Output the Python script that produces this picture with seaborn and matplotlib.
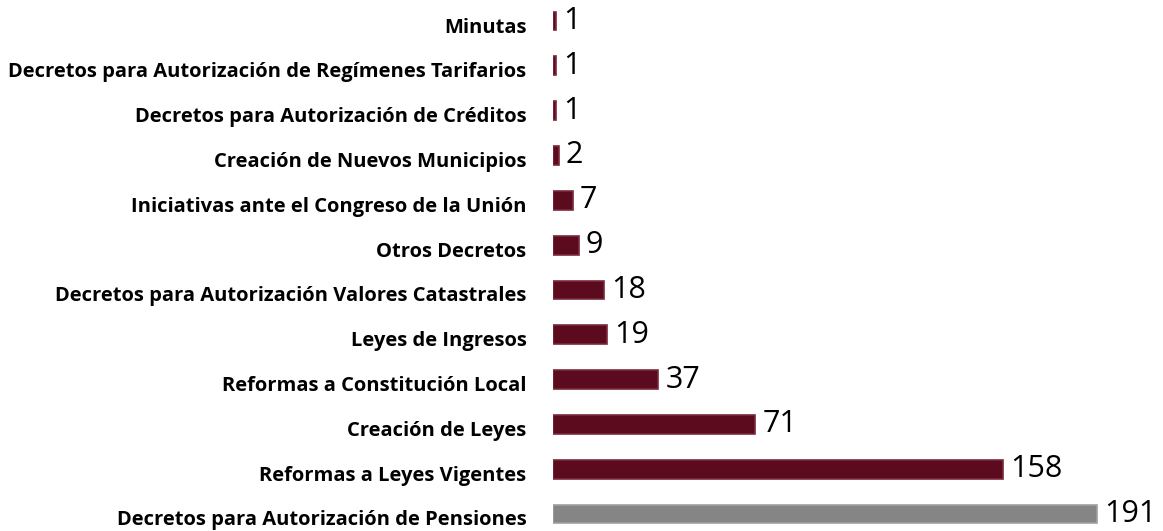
import matplotlib
matplotlib.use("Agg")
import matplotlib.pyplot as plt
import matplotlib.transforms as mtransforms
import seaborn as sns
import pandas as pd

categorias = [
    "Minutas",
    "Decretos para Autorización de Regímenes Tarifarios",
    "Decretos para Autorización de Créditos",
    "Creación de Nuevos Municipios",
    "Iniciativas ante el Congreso de la Unión",
    "Otros Decretos",
    "Decretos para Autorización Valores Catastrales",
    "Leyes de Ingresos",
    "Reformas a Constitución Local",
    "Creación de Leyes",
    "Reformas a Leyes Vigentes",
    "Decretos para Autorización de Pensiones",
]
valores = [1, 1, 1, 2, 7, 9, 18, 19, 37, 71, 158, 191]
colores = ["#5c0a1e"] * 11 + ["#858585"]
bordes = ["#7a2a3c"] * 11 + ["#a0a0a0"]

data = pd.DataFrame({"categoria": categorias, "valor": valores})

sns.set_theme(style="white")
plt.rcParams["font.family"] = ["Open Sans", "DejaVu Sans"]

fig = plt.figure(figsize=(11.63, 5.31), dpi=100)
ax = fig.add_axes([553 / 1163, 0, 1 - 553 / 1163, 1])

sns.barplot(data=data, x="valor", y="categoria", hue="categoria",
            palette=colores, saturation=1, legend=False, width=0.42, ax=ax,
            linewidth=1.2)
for patch, b in zip(ax.patches, bordes):
    patch.set_edgecolor(b)

for cont in ax.containers:
    ax.bar_label(cont, padding=5, fontsize=22, color="black")

ax.set_xlim(0, 214)
ax.set_ylim(11.38, -0.47)
ax.set_xlabel("")
ax.set_ylabel("")
ax.set_xticks([])
for s in ax.spines.values():
    s.set_visible(False)
ax.tick_params(axis="y", length=0, pad=19, labelcolor="black")

# etiquetas un poco más abajo que el centro de la barra, como en el original
desplazar = mtransforms.ScaledTranslation(0, -4 / 100, fig.dpi_scale_trans)
for t in ax.get_yticklabels():
    t.set_fontweight("bold")
    t.set_fontsize(14.5)
    t.set_transform(t.get_transform() + desplazar)

fig.savefig("out.png", dpi=100, facecolor="white")
